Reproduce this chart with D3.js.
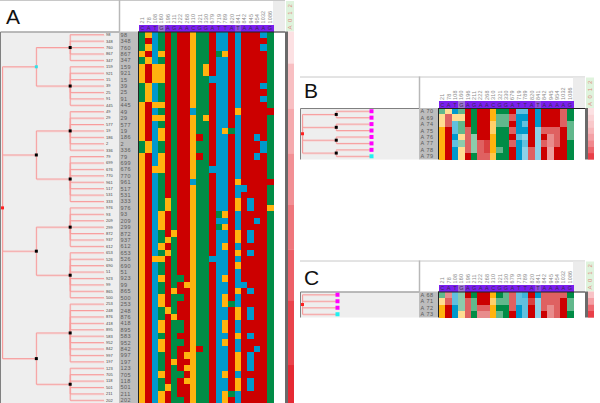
<!DOCTYPE html>
<html>
<head>
<meta charset="utf-8">
<script src="https://cdn.jsdelivr.net/npm/d3@7"></script>
<style>
html, body { margin: 0; padding: 0; background: #fff; }
svg { display: block; font-family: "Liberation Sans", Arial, sans-serif; }
.cell, .headcell { shape-rendering: crispEdges; }
</style>
</head>
<body>
<svg id="chart" width="600" height="403"></svg>
<script>
var positions = ['21','78','108','160','196','211','222','268','310','321','330','679','719','789','820','841','842','945','954','1032','1086'];
var consensus = ['C','A','T','G','A','G','A','A','C','G','G','A','T','T','A','T','A','A','A','A','G'];
var headerFade = [1,1,1,0.45,1,1,1,1,1,1,1,1,1,1,1,0.7,1,1,1,1,1];

var labelsA = ['98','348','760','867','347','159','921','15','39','25','91','445','49','29','577','19','186','2','336','79','699','676','770','961','517','531','333','976','93','209','299','872','937','612','653','526','690','51','923','99','865','500','253','248','876','418','895','583','952','842','997','197','123','705','118','501','211','202'];
var rowsA = [
    'GCTGAGAACGGATTATAAATG','GATGAGAACGGATTATAAAAG','GCTGAGAACGGATTATAAATG','CATCAGAACGGAGCATAAAAG','GCTGAGAACGGATTATAAAAG',
    'CACCAGAACGCATTATAAAAG','CACCAGAACGCATTATAAAAG','CACCAGAACGGTTTATAAAAG','GCTGAGAACGGATTATAAATG','GCTGAGAACGGATTATAAAAG',
    'GCTGAGAACGGATTATAAATG','CACCAGAACGGATTATAAAAG','CATGAGAATGGATTACAAAAA','CACCAGAACGCATTATAAAAG','CATGAGAACGGATTATAAAAG',
    'CATCAGAACGGATCGTAAAAG','CATCAGAACAGATTATAATAG','GCTGAGAACGGATTATAAATG','GCTGAGAACGGATTATAAATG','CATCAGAACAGATTATAATAG',
    'CATCAGAACGGATTATAAAAG','CACCAGAACGGTTTATAAAAG','CATGAGAACGGATTATAAAAG','CATGAGAATGGATTACAAAAA','CATGAGAACGGATTATTAAAG',
    'CATGAGAACGGATTATAAAAG','CATGCGAACGGATTACATAAG','CATGCGAACGGATTACATAAC','CATCAGAACGGAGCATAAAAG','CATCAGAACGGATTATAATAG',
    'CATCAGAACGGAGCATAAAAG','CATGACAACGGATTACATAAG','CATGCGAACGGATTACATAAG','CATCAGAACGGATCATAAAAG','CATGCGAACGGATTACATAAG',
    'CACCAGAACGGTTTATAAAAG','CATGAGAACGGATTACAAAAG','CATGAGAACGGATTATAAAAG','CATCAGGACGGATCATAAAAG','CATGAGACCGGATTATTAAAG',
    'CATGACAACGGATTACATAAG','CATCAGGACGGATCATAAAAG','CATCAGAACGGATCGTAAAAG','CATGCGAACGGATTACATAAG','CATGACAACGGATTACATAAG',
    'CATCAGGACGGATCATAAAAG','CATCAGGACGGATCATAAAAG','CATGAGAACGGATTACATAAG','CATCAGGACGGATCATAAAAG','CATCAGAACAGATTATAATAG',
    'CATGAGACCGGATTACATAAG','CATGACAACGGATTACATAAG','CATGAGACCGGATTACATAAG','CATCAGGACGGATCATAAAAG','CATGAGACCGGATTACATAAG',
    'CATGCGAACGGATTACATAAG','CATCAGAACGGATCGTAAAAG','CATCAGGACGGATCATAAAAG'
];
var treeA = [[5,7],[7,8],[7,8],[10,6]];
var stripGroupsA = [5,7,7,8,7,8,10,6];
var stripValuesA = [0.14,0.3,0.4,0.52,0.64,0.74,0.88,1];

var labelsB = ['A 70','A 69','A 74','A 75','A 76','A 77','A 78','A 79'];
var rowsB = ['GCTGAGAACGGATTATAAAAG','CACCAGAACGGATTATAAAAG','CATGAGAACGGATTATAAAAG','CATGAGAACGGATTATAAAAG','CATCAGAACGGATTATAAAAG','CATGAGAACGGATTATAAAAG','CATCAGAACGGATTATAAAAG','CATCAGAACGGATTATAAAAG'];
var shadesB = ['659699999999669999969','565599999666999999969','566699996669969999966','996669996996999566696','999565999999659595696','996565679996969565699','999565679699956594999','999599667999956594999'];
var treeB = [2,2,2,2];
var stripValuesB = [0.14,0.2,0.26,0.34,0.44,0.56,0.72,0.9];

var labelsC = ['A 68','A 71','A 72','A 73'];
var rowsC = ['GATGAGAACGGATTATAAAAG','CATGAGAACGGATTATAAAAG','CATGAGAACGGATTATAAAAG','CATCAGAACGGATTATAAAAG'];
var shadesC = ['656599999966679966669','566566996666667566696','999566669996969565696','999569559699969595699'];
var treeC = 4;
var stripValuesC = [0.28,0.45,0.7,0.9];

var baseColor = { A: '#cc0000', C: '#ffb30f', G: '#008c46', T: '#0099cc' };
var shadeOpacity = { 9: 1, 7: 0.75, 6: 0.62, 5: 0.45, 4: 0.38 };

var svg = d3.select('#chart');

// number -> node with that many leaves, array -> inner node
function nest(spec, labels, cursor){
    if (typeof spec === 'number'){
        var kids = [];
        for (var i = 0; i < spec; i++){
            kids.push({ leaf: labels[cursor.i++] });
        }
        return { children: kids };
    }
    return { children: spec.map(function(s){ return nest(s, labels, cursor); }) };
}

function placeTree(root, y, depthX){
    root.eachAfter(function(n){
        n.px = depthX(n.depth);
        if (n.children){
            n.py = d3.mean(n.children, function(c){ return c.py; });
        } else {
            n.py = y(n.data.leaf) + y.bandwidth()/2;
        }
    });
}

function mix(letter, shade){
    var c = d3.rgb(baseColor[letter]);
    return d3.interpolateRgb('#ffffff', c)(shadeOpacity[shade]);
}

function drawPanel(p){
    var g = svg.append('g');
    var y = d3.scaleBand().domain(p.labels).range([p.top, p.bottom]);
    var x = d3.scaleBand().domain(d3.range(positions.length)).range([p.gridLeft, p.gridLeft + 134]);
    var depthX = d3.scaleLinear().domain([0, p.depth]).range([p.treeLeft, p.treeRight]);

    // frame and big letter
    g.append('line').attr('x1', p.left).attr('x2', p.gridLeft + 146).attr('y1', p.head + 0.5).attr('y2', p.head + 0.5).attr('stroke', '#c8c8c8');
    g.append('rect').attr('x', p.gridLeft + 134).attr('y', p.head + 1).attr('width', 12).attr('height', p.top - p.head - 1).attr('fill', '#ececec');
    g.append('rect').attr('x', p.gridLeft + 147).attr('y', p.head + 1).attr('width', 8).attr('height', p.top - p.head - 1).attr('fill', '#dff3dd');
    g.append('text').attr('x', p.gridLeft + 153).attr('y', p.top - 2)
        .attr('transform', 'rotate(-90,' + (p.gridLeft + 153) + ',' + (p.top - 2) + ')')
        .attr('font-size', 6).attr('letter-spacing', 1.1).attr('fill', '#e08a80').text('A 0 1 2');
    g.append('line').attr('x1', p.gridLeft - 19.5).attr('x2', p.gridLeft - 19.5).attr('y1', p.head).attr('y2', p.top).attr('stroke', '#b8b8b8').attr('stroke-width', 1.5);
    g.append('text').attr('x', p.letterX).attr('y', p.letterY).attr('font-family', 'Liberation Sans').attr('font-size', 21).attr('fill', '#111').text(p.letter);

    // tree box
    g.append('rect').attr('x', p.left + 0.5).attr('y', p.top).attr('width', p.gridLeft - 20 - p.left).attr('height', p.bottom - p.top).attr('fill', '#eeeeee');
    g.append('path').attr('d', 'M' + (p.left + 0.5) + ',' + p.bottom + 'V' + (p.top + 0.5) + 'H' + (p.gridLeft - 19)).attr('fill', 'none').attr('stroke', '#808080');

    var root = d3.hierarchy(nest(p.tree, p.labels, { i: 0 }));
    placeTree(root, y, depthX);

    var linkPath = function(l){
        return 'M' + l.source.px + ',' + l.source.py + 'V' + l.target.py + 'H' + l.target.px;
    };
    g.selectAll('.shadow').data(root.links()).enter().append('path').attr('class', 'shadow')
        .attr('d', linkPath).attr('transform', 'translate(0.6,0.9)').attr('fill', 'none').attr('stroke', '#f6d4d4').attr('stroke-width', 1);
    g.selectAll('.link').data(root.links()).enter().append('path').attr('class', 'link')
        .attr('d', linkPath).attr('fill', 'none').attr('stroke', '#f79c9c').attr('stroke-width', 1);

    var inner = root.descendants().filter(function(n){ return n.children; });
    g.selectAll('.node').data(inner).enter().append('rect').attr('class', 'node')
        .attr('x', function(d){ return d.px - 1.5; })
        .attr('y', function(d){ return d.py - 1.5; })
        .attr('width', 3).attr('height', 3)
        .attr('fill', function(d){
            if (d.depth === 0) return '#ff2020';
            if (p.letter === 'A' && d.depth === 1 && d.py === inner[1].py) return '#30e0e8';
            return '#000';
        });

    if (p.leafMarks){
        var leaves = root.leaves();
        g.selectAll('.leafmark').data(leaves).enter().append('rect').attr('class', 'leafmark')
            .attr('x', function(d){ return d.px - 0.5; })
            .attr('y', function(d){ return d.py - 2; })
            .attr('width', 4).attr('height', 4)
            .attr('fill', function(d, i){ return i === leaves.length - 1 ? '#20f0f0' : '#ff00ff'; });
    } else {
        g.selectAll('.leaflabel').data(p.labels).enter().append('text').attr('class', 'leaflabel')
            .attr('x', p.treeRight + 2)
            .attr('y', function(d){ return y(d) + y.bandwidth()/2 + 1.4; })
            .attr('font-size', 4).attr('fill', '#444').text(function(d){ return d; });
    }

    // row label column
    g.append('rect').attr('x', p.gridLeft - 20).attr('y', p.top).attr('width', 19).attr('height', p.bottom - p.top).attr('fill', '#bdbdbd');
    g.selectAll('.rowlabel').data(p.labels).enter().append('text').attr('class', 'rowlabel')
        .attr('x', p.gridLeft - 18.5)
        .attr('y', function(d){ return y(d) + y.bandwidth()/2 + 2; })
        .attr('font-size', 5.5).attr('letter-spacing', 0.5).attr('fill', '#5a5a5a').text(function(d){ return d; });

    // column header
    g.selectAll('.poslabel').data(positions).enter().append('text').attr('class', 'poslabel')
        .attr('transform', function(d, i){
            return 'translate(' + (x(i) + x.bandwidth()/2 + 2) + ',' + (p.top - 8) + ') rotate(-90)';
        })
        .attr('font-size', 5.4).attr('letter-spacing', 0.2).attr('fill', '#8a8a8a').text(function(d){ return d; });
    g.selectAll('.headcell').data(consensus).enter().append('rect').attr('class', 'headcell')
        .attr('x', function(d, i){ return x(i); })
        .attr('y', p.top - 7).attr('width', x.bandwidth() + 0.6).attr('height', 7)
        .attr('fill', function(d, i){ return d3.interpolateRgb('#bbbbbb', '#7b1fee')(headerFade[i]); });
    g.selectAll('.headletter').data(consensus).enter().append('text').attr('class', 'headletter')
        .attr('x', function(d, i){ return x(i) + x.bandwidth()/2; })
        .attr('y', p.top - 1.2).attr('text-anchor', 'middle')
        .attr('font-size', 5.5).attr('fill', '#3a2a50').text(function(d){ return d; });

    // alignment cells
    var cells = [];
    p.rows.forEach(function(row, r){
        row.split('').forEach(function(ch, c){
            cells.push({ label: p.labels[r], c: c, ch: ch, shade: p.shades ? p.shades[r][c] : 9 });
        });
    });
    g.selectAll('.cell').data(cells).enter().append('rect').attr('class', 'cell')
        .attr('x', function(d){ return x(d.c); })
        .attr('y', function(d){ return y(d.label); })
        .attr('width', x.bandwidth() + 0.6)
        .attr('height', y.bandwidth() + 0.6)
        .attr('fill', function(d){ return mix(d.ch, d.shade); });

    g.append('line').attr('x1', p.gridLeft - 0.5).attr('x2', p.gridLeft - 0.5).attr('y1', p.top).attr('y2', p.bottom).attr('stroke', '#222');
    g.append('line').attr('x1', p.gridLeft - 1).attr('x2', p.gridLeft + 146).attr('y1', p.top + 0.5).attr('y2', p.top + 0.5).attr('stroke', '#222');
    g.append('rect').attr('x', p.gridLeft + 146).attr('y', p.top).attr('width', 3).attr('height', p.bottom - p.top).attr('fill', '#6a6a6a');

    // red strip on the right
    var stripIdx = 0;
    p.stripRows.forEach(function(n, i){
        var from = y(p.labels[stripIdx]);
        var to = y(p.labels[stripIdx + n - 1]) + y.bandwidth();
        g.append('rect').attr('x', p.gridLeft + 149).attr('y', from).attr('width', 6).attr('height', to - from + 0.2)
            .attr('fill', d3.interpolateRgb('#ffffff', '#e62a34')(p.stripValues[i]));
        stripIdx += n;
    });
}

drawPanel({
    letter: 'A', labels: labelsA, rows: rowsA, tree: treeA, depth: 3,
    stripRows: stripGroupsA, stripValues: stripValuesA,
    left: 0, head: 0, top: 31.5, bottom: 403.5, gridLeft: 139,
    treeLeft: 2.5, treeRight: 104, letterX: 6, letterY: 24
});
drawPanel({
    letter: 'B', labels: labelsB, rows: rowsB, shades: shadesB, tree: treeB, depth: 2, leafMarks: true,
    stripRows: labelsB.map(function(){ return 1; }), stripValues: stripValuesB,
    left: 300, head: 76.5, top: 108, bottom: 159.5, gridLeft: 439,
    treeLeft: 302.5, treeRight: 370, letterX: 304, letterY: 98
});
drawPanel({
    letter: 'C', labels: labelsC, rows: rowsC, shades: shadesC, tree: treeC, depth: 1, leafMarks: true,
    stripRows: labelsC.map(function(){ return 1; }), stripValues: stripValuesC,
    left: 300, head: 260.5, top: 291.5, bottom: 317.5, gridLeft: 439,
    treeLeft: 302.5, treeRight: 336, letterX: 304, letterY: 285
});
</script>
</body>
</html>
